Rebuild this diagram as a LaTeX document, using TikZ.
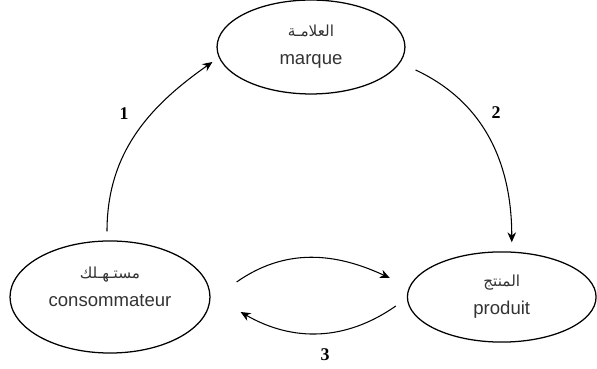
\documentclass[tikz,border=0pt]{standalone}
\usepackage{fontspec}
\setmainfont{Liberation Serif}
\newfontfamily\latinsans{Liberation Sans}
\newfontfamily\arabicfont[Script=Arabic]{DejaVu Sans}
\TeXXeTstate=1
\usetikzlibrary{shapes.geometric,arrows.meta,positioning}
\newcommand{\ar}[1]{{\arabicfont\fontsize{11.5}{13}\selectfont\beginR #1\endR}}

\begin{document}
\begin{tikzpicture}[x=0.0265cm,y=0.0265cm,
    etat/.style={ellipse,draw,line width=0.95pt,inner sep=0pt,align=center,
                 text=black!80,font=\latinsans\fontsize{14}{21}\selectfont},
    fleche/.style={line width=0.8pt,-{Stealth[length=7.5pt,width=6.5pt]}},
    numero/.style={font=\bfseries\fontsize{13.5}{15}\selectfont}]
    \useasboundingbox (0,0) rectangle (597,369);
    % les trois ellipses
    \node[etat,minimum width=5.3cm,minimum height=2.97cm] (cons) at (110,72)
        {\ar{مستـهـلك}\\consommateur\\[-6pt]\mbox{}};
    \node[etat,minimum width=5.0cm,minimum height=2.39cm,right=5.2cm of cons] (prod)
        {\ar{المنتج}\\produit};
    \node[etat,minimum width=4.98cm,minimum height=2.49cm] (marque) at (311,322)
        {\ar{العلامـة}\\marque};
    % les fleches
    \draw[fleche] ([shift={(-3,9)}]cons.north) to[out=90,in=215]
        ([shift={(-4,-15)}]marque.west);
    \draw[fleche] ([shift={(10,-23)}]marque.east) to[out=-25,in=90]
        ([shift={(10,9)}]prod.north);
    \draw[fleche] ([shift={(26,15)}]cons.east) to[out=35,in=155]
        ([shift={(-17,19)}]prod.west);
    \draw[fleche] ([shift={(-11,-9)}]prod.west) to[out=-145,in=-30]
        ([shift={(30,-15)}]cons.east);
    % numeros
    \node[numero] (n1) at (124,255) {1};
    \node[numero] (n2) at (496,256) {2};
    \node[numero] (n3) at (325,14) {3};
\end{tikzpicture}
\end{document}
